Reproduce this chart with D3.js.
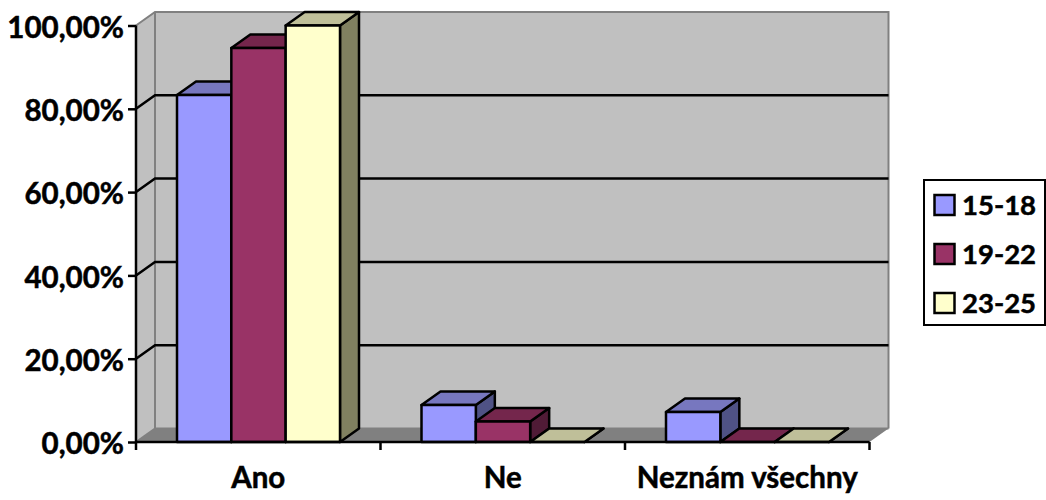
<!DOCTYPE html>
<html><head><meta charset="utf-8">
<script src="https://cdn.jsdelivr.net/npm/d3@7"></script>
<style>html,body{margin:0;padding:0;background:#fff}svg{display:block}text{font-family:Lato,"Open Sans",sans-serif;font-weight:700;fill:#000;stroke:#000;stroke-width:0.5px}</style>
</head><body><svg id="c" width="1046" height="500"></svg>
<script>
const categories = ["Ano", "Ne", "Neznám všechny"];
const seriesNames = ["15-18", "19-22", "23-25"];
const values15 = [83.3, 8.9, 7.2];
const values19 = [94.6, 4.9, 0];
const values23 = [100, 0, 0];
const yTicks = [0, 20, 40, 60, 80, 100];
const front = ["#9999ff", "#993366", "#ffffcc"];
const top_ = ["#7777bf", "#74264c", "#bfbf99"];
const side = ["#4f5285", "#501b36", "#808060"];

const svg = d3.select("#c");
const x0 = d3.scaleBand().domain(categories).range([136, 869.5]).paddingInner(0).paddingOuter(0);
const xs = d3.scaleLinear().domain([0, 3]).range([41, 41 + 163]);
const y = d3.scaleLinear().domain([0, 100]).range([442, 25.5]);
const dx = 19, dy = -13.5;
const fmt = v => v.toFixed(2).replace(".", ",") + "%";
const pts = a => a.map(p => p.join(",")).join(" ");
const L = 136, R = 869.5, B = y(0), T = y(100);

// walls
svg.append("polygon").attr("points", pts([[L, B], [L + dx, B + dy], [L + dx, T + dy], [L, T]])).attr("fill", "#c0c0c0");
svg.append("polygon").attr("points", pts([[L + dx, B + dy], [R + dx, B + dy], [R + dx, T + dy], [L + dx, T + dy]])).attr("fill", "#c0c0c0");
svg.append("polygon").attr("points", pts([[L, B], [R, B], [R + dx, B + dy], [L + dx, B + dy]])).attr("fill", "#808080");
svg.append("polyline").attr("points", pts([[L, T], [L + dx, T + dy], [R + dx, T + dy], [R + dx, B + dy]])).attr("fill", "none").attr("stroke", "#808080").attr("stroke-width", 2);
svg.append("polyline").attr("points", pts([[L + dx, T + dy], [L + dx, B + dy], [R + dx, B + dy]])).attr("fill", "none").attr("stroke", "#808080").attr("stroke-width", 2);
svg.append("line").attr("x1", L).attr("y1", B).attr("x2", L + dx).attr("y2", B + dy).attr("stroke", "#808080").attr("stroke-width", 2);

// gridlines
yTicks.filter(t => t > 0 && t < 100).forEach(t => {
  svg.append("polyline").attr("points", pts([[L, y(t)], [L + dx, y(t) + dy], [R + dx, y(t) + dy]]))
    .attr("fill", "none").attr("stroke", "#000").attr("stroke-width", 2.5);
});

// bars
const seriesValues = [values15, values19, values23];
categories.forEach((c, ci) => {
  seriesNames.forEach((s, si) => {
    const v = seriesValues[si][ci];
    const xa = x0(c) + xs(si), xb = x0(c) + xs(si + 1), yt = y(v), yb = y(0);
    const g = svg.append("g").attr("stroke", "#000").attr("stroke-width", 2.5).attr("stroke-linejoin", "round");
    g.append("polygon").attr("points", pts([[xb, yt], [xb + dx, yt + dy], [xb + dx, yb + dy], [xb, yb]])).attr("fill", side[si]);
    g.append("polygon").attr("points", pts([[xa, yt], [xb, yt], [xb + dx, yt + dy], [xa + dx, yt + dy]])).attr("fill", top_[si]);
    if (v > 0) g.append("rect").attr("x", xa).attr("y", yt).attr("width", xb - xa).attr("height", yb - yt).attr("fill", front[si]);
  });
});

// axes
const yAxis = d3.axisLeft(y).tickValues(yTicks).tickFormat(fmt).tickSize(8).tickPadding(4);
const ya = svg.append("g").attr("transform", `translate(${L},0)`).call(yAxis);
ya.selectAll("path").attr("d", `M0,${T}V${B}`).attr("stroke", "#000").attr("stroke-width", 2.5);
ya.selectAll("line").attr("stroke", "#000").attr("stroke-width", 2.5);
ya.selectAll("text").attr("font-size", 29.5).attr("dy", "0.4em");

const xAxis = d3.axisBottom(x0).tickSize(0).tickPadding(25);
const xa = svg.append("g").attr("transform", `translate(0,${B})`).call(xAxis);
xa.selectAll("path").attr("d", `M${L},0H${R}`).attr("stroke", "#000").attr("stroke-width", 2.5);
xa.selectAll("text").attr("font-size", 29.5).attr("dy", "0.71em");
d3.range(4).forEach(i => {
  const px = L + (R - L) * i / 3;
  svg.append("line").attr("x1", px).attr("x2", px).attr("y1", B).attr("y2", B + 8).attr("stroke", "#000").attr("stroke-width", 2.5);
});

// legend
const lg = svg.append("g");
lg.append("rect").attr("x", 924).attr("y", 180).attr("width", 121).attr("height", 145).attr("fill", "#fff").attr("stroke", "#000").attr("stroke-width", 2);
const ly = d3.scalePoint().domain(seriesNames).range([205, 303]);
seriesNames.forEach((s, i) => {
  lg.append("rect").attr("x", 934.5).attr("y", ly(s) - 10).attr("width", 20).attr("height", 20).attr("fill", front[i]).attr("stroke", "#000").attr("stroke-width", 2.5);
  lg.append("text").attr("x", 962).attr("y", ly(s)).attr("dy", "0.36em").attr("font-size", 27.5).text(s);
});
</script></body></html>
